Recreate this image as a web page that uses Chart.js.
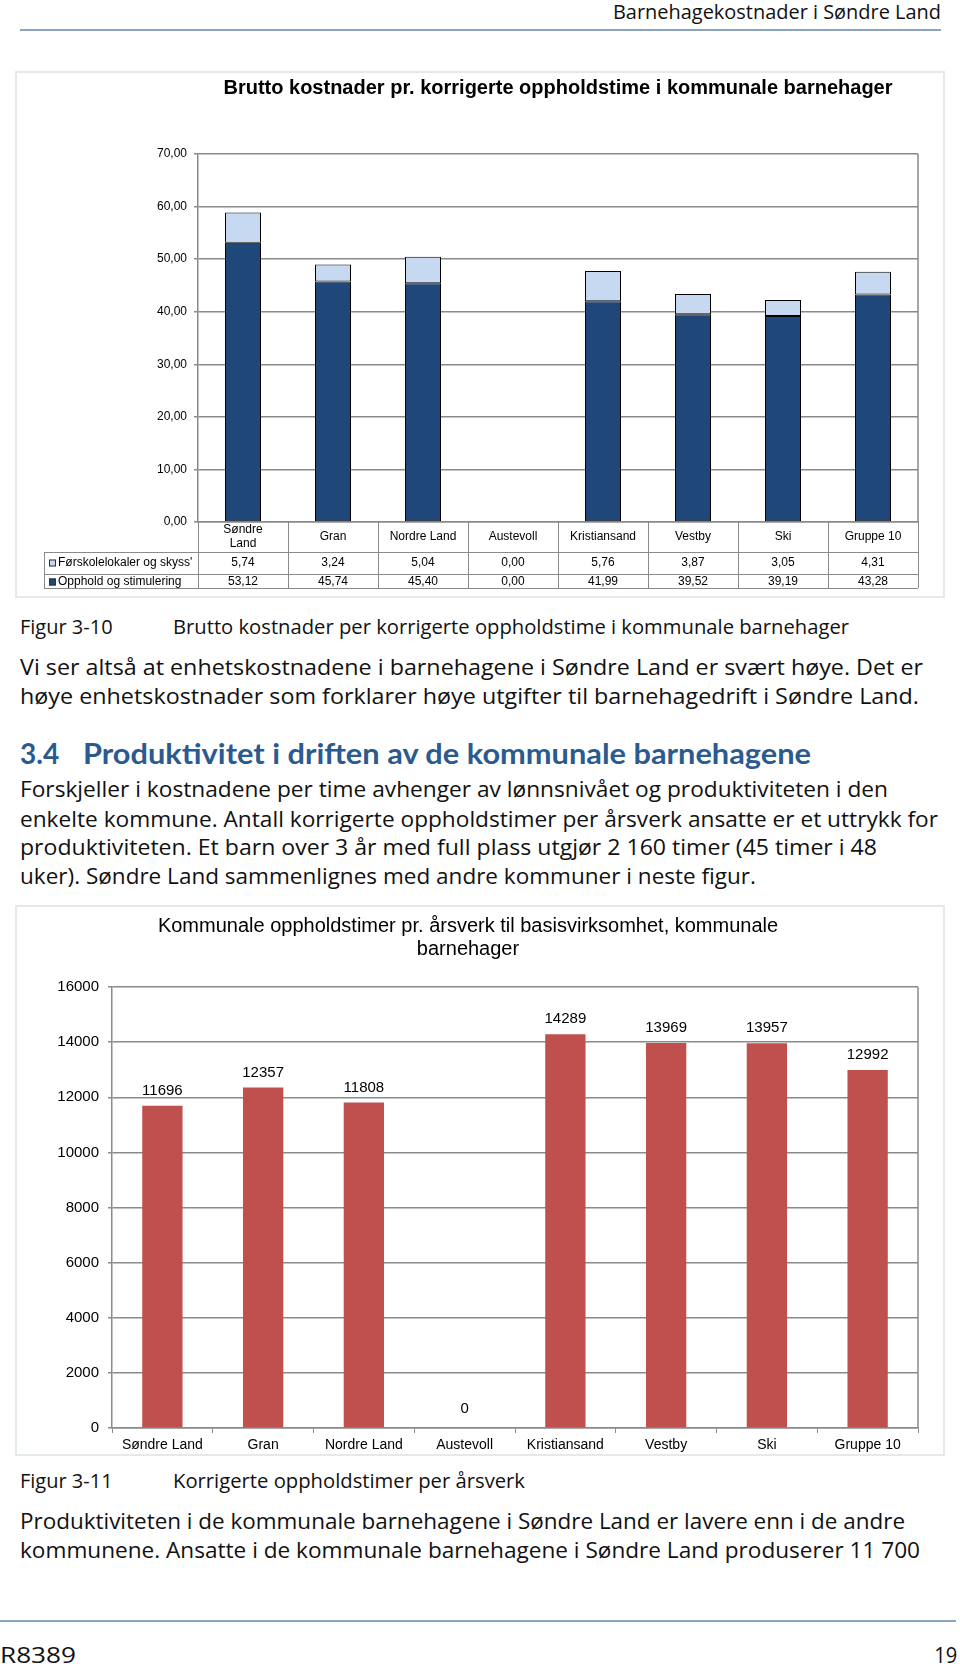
<!DOCTYPE html>
<html lang="no">
<head>
<meta charset="utf-8">
<title>Barnehagekostnader i Søndre Land</title>
<script src="https://cdn.jsdelivr.net/npm/chart.js@4.4.1/dist/chart.umd.min.js"></script>
<style>
  html, body { margin: 0; padding: 0; background: #fff; }
  body { width: 960px; height: 1664px; position: relative; overflow: hidden;
         font-family: "Open Sans", "Noto Sans", sans-serif; color: #111; }
  .ln { position: absolute; white-space: nowrap; line-height: 28px; height: 28px; font-size: 22px;
        transform-origin: left center; }
  .ln.r { transform-origin: right center; }
  .cap { font-size: 20px; }
  .rule { position: absolute; height: 2px; background: #8ba4c0; }
  .box { position: absolute; border: 2px solid #e4e9e9; box-sizing: border-box; }
  .box canvas { position: absolute; left: -2px; top: -2px; }
  .h2 { font-size: 28px; line-height: 34px; height: 34px; font-weight: 700; color: #2b5a8f;
        font-family: "Lato", "Open Sans", sans-serif; }
</style>
</head>
<body>
<div class="ln r" data-w="328" style="right:19px;top:-2px;font-size:20px">Barnehagekostnader i Søndre Land</div>
<div class="rule" style="left:20px;width:921px;top:29px"></div>

<div class="box" style="left:15px;top:71px;width:930px;height:527px">
  <canvas id="costChart" width="930" height="527"></canvas>
</div>

<div class="ln cap" style="left:20px;top:613px">Figur 3-10</div>
<div class="ln cap" data-w="676" style="left:173px;top:613px">Brutto kostnader per korrigerte oppholdstime i kommunale barnehager</div>

<div class="ln" data-w="903" style="left:20px;top:652px">Vi ser altså at enhetskostnadene i barnehagene i Søndre Land er svært høye. Det er</div>
<div class="ln" data-w="899" style="left:20px;top:681px">høye enhetskostnader som forklarer høye utgifter til barnehagedrift i Søndre Land.</div>

<div class="ln h2" style="left:20px;top:736px">3.4</div>
<div class="ln h2" data-w="728" style="left:83px;top:736px">Produktivitet i driften av de kommunale barnehagene</div>

<div class="ln" data-w="868" style="left:20px;top:774px">Forskjeller i kostnadene per time avhenger av lønnsnivået og produktiviteten i den</div>
<div class="ln" data-w="918" style="left:20px;top:804px">enkelte kommune. Antall korrigerte oppholdstimer per årsverk ansatte er et uttrykk for</div>
<div class="ln" data-w="857" style="left:20px;top:832px">produktiviteten. Et barn over 3 år med full plass utgjør 2 160 timer (45 timer i 48</div>
<div class="ln" data-w="736" style="left:20px;top:861px">uker). Søndre Land sammenlignes med andre kommuner i neste figur.</div>

<div class="box" style="left:15px;top:905px;width:930px;height:551px">
  <canvas id="hoursChart" width="930" height="551"></canvas>
</div>

<div class="ln cap" style="left:20px;top:1467px">Figur 3-11</div>
<div class="ln cap" data-w="352" style="left:173px;top:1467px">Korrigerte oppholdstimer per årsverk</div>

<div class="ln" data-w="885" style="left:20px;top:1506px">Produktiviteten i de kommunale barnehagene i Søndre Land er lavere enn i de andre</div>
<div class="ln" data-w="900" style="left:20px;top:1535px">kommunene. Ansatte i de kommunale barnehagene i Søndre Land produserer 11 700</div>

<div class="rule" style="left:0;width:956px;top:1620px"></div>
<div class="ln" data-w="76" style="left:0;top:1640px">R8389</div>
<div class="ln r" data-w="23" style="right:3px;top:1640px">19</div>

<script>
// Shared data for both figures.
const categories   = ['Søndre Land', 'Gran', 'Nordre Land', 'Austevoll', 'Kristiansand', 'Vestby', 'Ski', 'Gruppe 10'];
const tableLabels  = [['Søndre', 'Land'], 'Gran', 'Nordre Land', 'Austevoll', 'Kristiansand', 'Vestby', 'Ski', 'Gruppe 10'];

// Figur 3-10: kroner per korrigerte oppholdstime.
const lokalerSkyss = [5.74, 3.24, 5.04, 0.00, 5.76, 3.87, 3.05, 4.31];
const oppholdStim  = [53.12, 45.74, 45.40, 0.00, 41.99, 39.52, 39.19, 43.28];
const costTicksMax = 70;

// Figur 3-11: oppholdstimer per årsverk.
const timerPerArsverk = [11696, 12357, 11808, 0, 14289, 13969, 13957, 12992];
const hoursTicksMax   = 16000;

const FONT   = 'Liberation Sans, Arial, sans-serif';
const GRID   = '#8a8a8a';
const DARK   = '#1f477a';
const LIGHT  = '#c6d9f1';
const RED    = '#c0504d';

const comma = v => v.toFixed(2).replace('.', ',');

// Stretch each text line to the width it has on the printed page.
document.querySelectorAll('.ln[data-w]').forEach(el => {
  const natural = el.getBoundingClientRect().width;
  el.style.transform = `scaleX(${Number(el.dataset.w) / natural})`;
});

// Right-hand side of the plot frame (Excel draws a closed plot area).
const frameRight = {
  id: 'frameRight',
  beforeDatasetsDraw(chart) {
    const { ctx, chartArea: a } = chart;
    ctx.save();
    ctx.strokeStyle = GRID;
    ctx.lineWidth = 1.5;
    ctx.beginPath();
    ctx.moveTo(a.right, a.top);
    ctx.lineTo(a.right, a.bottom);
    ctx.stroke();
    ctx.restore();
  }
};

// Data table under the first chart: category row + one row per series.
const dataTable = {
  id: 'dataTable',
  afterDraw(chart) {
    const { ctx, chartArea: a } = chart;
    const xs = chart.scales.x;
    const catW = (a.right - a.left) / categories.length;
    const top = a.bottom, r1 = top + 30, r2 = r1 + 22;
    const bottom = r2 + 14;
    const legendLeft = 29;
    ctx.save();
    ctx.strokeStyle = GRID;
    ctx.lineWidth = 1;
    ctx.beginPath();
    for (let i = 0; i <= categories.length; i++) {
      const x = Math.round(a.left + i * catW) + 0.5;
      ctx.moveTo(x, top); ctx.lineTo(x, bottom);
    }
    [r1, r2, bottom].forEach(y => { ctx.moveTo(legendLeft, Math.round(y) + 0.5); ctx.lineTo(a.right, Math.round(y) + 0.5); });
    ctx.moveTo(legendLeft + 0.5, r1); ctx.lineTo(legendLeft + 0.5, bottom);
    ctx.stroke();

    ctx.fillStyle = '#000';
    ctx.font = `12px ${FONT}`;
    ctx.textAlign = 'center';
    ctx.textBaseline = 'middle';
    tableLabels.forEach((lab, i) => {
      const x = xs.getPixelForValue(i);
      if (Array.isArray(lab)) {
        ctx.fillText(lab[0], x, top + 8);
        ctx.fillText(lab[1], x, top + 22);
      } else {
        ctx.fillText(lab, x, top + 15);
      }
      ctx.fillText(comma(lokalerSkyss[i]), x, r1 + 11);
      ctx.fillText(comma(oppholdStim[i]), x, r2 + 8);
    });

    // series legend keys
    ctx.textAlign = 'left';
    const rows = [[LIGHT, "Førskolelokaler og skyss'", r1 + 11], [DARK, 'Opphold og stimulering', r2 + 8]];
    rows.forEach(([color, text, y]) => {
      ctx.fillStyle = color;
      ctx.fillRect(legendLeft + 5, y - 3.5, 7, 7);
      ctx.strokeStyle = '#333';
      ctx.strokeRect(legendLeft + 5.5, y - 3, 6, 6);
      ctx.fillStyle = '#000';
      ctx.fillText(text, legendLeft + 14, y);
    });
    ctx.restore();
  }
};

// Value labels above the bars in the second chart.
const valueLabels = {
  id: 'valueLabels',
  afterDatasetsDraw(chart) {
    const { ctx } = chart;
    const meta = chart.getDatasetMeta(0);
    ctx.save();
    ctx.font = `15px ${FONT}`;
    ctx.fillStyle = '#000';
    ctx.textAlign = 'center';
    ctx.textBaseline = 'middle';
    meta.data.forEach((bar, i) => {
      ctx.fillText(String(timerPerArsverk[i]), bar.x, bar.y - (timerPerArsverk[i] === 0 ? 19 : 15));
    });
    ctx.restore();
  }
};

new Chart(document.getElementById('costChart'), {
  type: 'bar',
  data: {
    labels: categories,
    datasets: [
      { label: 'Opphold og stimulering', data: oppholdStim, backgroundColor: DARK,
        borderColor: '#000', borderWidth: 1, borderSkipped: false },
      { label: "Førskolelokaler og skyss'", data: lokalerSkyss, backgroundColor: LIGHT,
        borderColor: '#000', borderWidth: 1, borderSkipped: false }
    ]
  },
  options: {
    responsive: false,
    animation: false,
    barPercentage: 0.4,
    categoryPercentage: 1,
    layout: { padding: { left: 0, right: 27, top: 0, bottom: 0 } },
    plugins: {
      legend: { display: false },
      tooltip: { enabled: false },
      title: {
        display: true,
        fullSize: false,   // centre over the plot area, as Excel does
        text: 'Brutto kostnader pr. korrigerte oppholdstime i kommunale barnehager',
        color: '#000',
        font: { family: FONT, size: 20, weight: 'bold', lineHeight: 1.2 },
        padding: { top: 5, bottom: 54 }
      }
    },
    scales: {
      x: {
        stacked: true,
        grid: { display: false },
        border: { color: GRID, width: 1.5 },
        ticks: { display: false },
        afterFit: s => { s.height = 76; }
      },
      y: {
        stacked: true,
        min: 0,
        max: costTicksMax,
        ticks: { stepSize: 10, color: '#000', font: { family: FONT, size: 12 }, padding: 7,
                 callback: v => comma(v) },
        grid: { color: GRID, lineWidth: 1.5, tickLength: 4 },
        border: { color: GRID, width: 1.5 },
        afterFit: s => { s.width = 183; }
      }
    }
  },
  plugins: [frameRight, dataTable]
});

new Chart(document.getElementById('hoursChart'), {
  type: 'bar',
  data: {
    labels: categories,
    datasets: [
      { label: 'Oppholdstimer per årsverk', data: timerPerArsverk, backgroundColor: RED, borderWidth: 0 }
    ]
  },
  options: {
    responsive: false,
    animation: false,
    barPercentage: 0.4,
    categoryPercentage: 1,
    layout: { padding: { left: 3, right: 27, top: 0, bottom: 0 } },
    plugins: {
      legend: { display: false },
      tooltip: { enabled: false },
      title: {
        display: true,
        text: ['Kommunale oppholdstimer pr. årsverk til basisvirksomhet, kommunale', 'barnehager'],
        color: '#000',
        font: { family: FONT, size: 20, weight: 'normal', lineHeight: '23px' },
        padding: { top: 9.5, bottom: 26.5 }
      }
    },
    scales: {
      x: {
        grid: { display: true, drawOnChartArea: false, color: GRID, tickLength: 5, offset: true },
        border: { color: GRID, width: 1.5 },
        ticks: { color: '#000', font: { family: FONT, size: 14 }, padding: 4, maxRotation: 0, autoSkip: false },
        afterFit: s => { s.height = 28; }
      },
      y: {
        min: 0,
        max: hoursTicksMax,
        ticks: { stepSize: 2000, color: '#000', font: { family: FONT, size: 15 }, padding: 9,
                 callback: v => String(v) },
        grid: { color: GRID, lineWidth: 1.5, tickLength: 4 },
        border: { color: GRID, width: 1.5 },
        afterFit: s => { s.width = 94; }
      }
    }
  },
  plugins: [frameRight, valueLabels]
});
</script>
</body>
</html>
